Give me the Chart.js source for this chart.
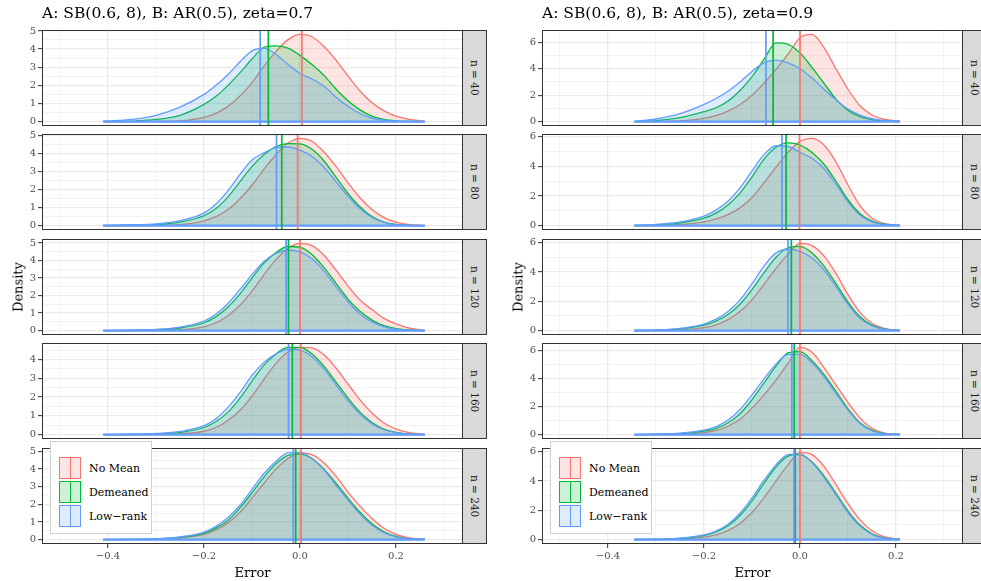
<!DOCTYPE html>
<html>
<head>
<meta charset="utf-8">
<script src="https://cdn.jsdelivr.net/npm/chart.js@4.4.0/dist/chart.umd.min.js"></script>
<style>
    body { margin: 0; width: 981px; height: 581px; overflow: hidden; background: #fff; position: relative; font-family: "DejaVu Serif", serif; }
    canvas { position: absolute; }
    .txt { position: absolute; white-space: nowrap; line-height: 1; color: #000; }
    .strip { position: absolute; box-sizing: border-box; background: #d9d9d9; border: 1px solid #333; display: flex; align-items: center; justify-content: center; }
    .strip span { writing-mode: vertical-rl; font-size: 10.5px; color: #1a1a1a; }
    .legend { position: absolute; box-sizing: border-box; background: #fff; border: 1px solid #d0d0d0; }
    .key { position: absolute; box-sizing: border-box; width: 22px; height: 22px; border-width: 1.3px; border-style: solid; }
    .key i { position: absolute; left: 9.5px; top: 0; width: 1.6px; height: 100%; }
    .legend span { position: absolute; font-size: 11px; transform: translateY(-50%); }
</style>
</head>
<body>
<script>
// Facet titles and labels
const titles = ["A: SB(0.6, 8), B: AR(0.5), zeta=0.7", "A: SB(0.6, 8), B: AR(0.5), zeta=0.9"];
const seriesNames = ["No Mean", "Demeaned", "Low\u2212rank"];
const sampleSizes = [40, 80, 120, 160, 240];
const xTickValues = [-0.5, -0.4, -0.3, -0.2, -0.1, 0, 0.1, 0.2, 0.3];

// Error grid (x) for each column
const errorZ07 = [-0.41, -0.35, -0.3, -0.25, -0.2, -0.175, -0.15, -0.125, -0.1, -0.075, -0.05, -0.025, 0, 0.025, 0.05, 0.075, 0.1, 0.125, 0.15, 0.175, 0.2, 0.225, 0.26];
const errorZ09 = [-0.345, -0.3, -0.25, -0.2, -0.175, -0.15, -0.125, -0.1, -0.075, -0.05, -0.025, 0, 0.025, 0.05, 0.075, 0.1, 0.125, 0.15, 0.175, 0.208];

// Densities, zeta = 0.7 (rows: n = 40, 80, 120, 160, 240)
const noMeanZ07 = [
    [0, 0, 0.01, 0.04, 0.23, 0.46, 0.84, 1.41, 2.15, 3.05, 3.87, 4.52, 4.81, 4.68, 4.14, 3.39, 2.52, 1.69, 1.04, 0.59, 0.3, 0.14, 0.02],
    [0, 0, 0.01, 0.05, 0.26, 0.5, 0.9, 1.5, 2.25, 3.15, 3.95, 4.6, 4.86, 4.7, 4.1, 3.3, 2.4, 1.55, 0.9, 0.45, 0.2, 0.07, 0.01],
    [0, 0, 0.01, 0.05, 0.22, 0.45, 0.85, 1.45, 2.25, 3.2, 4.05, 4.7, 4.98, 4.85, 4.3, 3.45, 2.55, 1.75, 1.2, 0.7, 0.38, 0.16, 0.02],
    [0, 0, 0.01, 0.04, 0.18, 0.38, 0.75, 1.3, 2.05, 2.95, 3.8, 4.4, 4.65, 4.62, 4.25, 3.55, 2.7, 1.85, 1.15, 0.62, 0.3, 0.12, 0.02],
    [0, 0.01, 0.03, 0.1, 0.3, 0.55, 0.95, 1.55, 2.35, 3.2, 4.0, 4.6, 4.92, 4.82, 4.35, 3.6, 2.7, 1.9, 1.2, 0.65, 0.3, 0.11, 0.02]
];
const demeanedZ07 = [
    [0, 0.03, 0.12, 0.35, 0.95, 1.4, 2.0, 2.7, 3.45, 4.1, 4.18, 4.05, 3.65, 3.15, 2.55, 1.8, 1.15, 0.65, 0.3, 0.12, 0.04, 0.01, 0],
    [0, 0.02, 0.06, 0.2, 0.55, 0.95, 1.6, 2.45, 3.3, 3.95, 4.4, 4.57, 4.55, 4.25, 3.6, 2.7, 1.8, 1.05, 0.5, 0.2, 0.07, 0.02, 0],
    [0, 0.02, 0.05, 0.15, 0.45, 0.8, 1.35, 2.1, 3.0, 3.85, 4.45, 4.8, 4.75, 4.35, 3.6, 2.7, 1.8, 1.1, 0.6, 0.28, 0.11, 0.04, 0],
    [0, 0.01, 0.04, 0.12, 0.38, 0.7, 1.2, 1.95, 2.85, 3.7, 4.3, 4.65, 4.65, 4.3, 3.65, 2.8, 1.95, 1.2, 0.65, 0.3, 0.12, 0.04, 0],
    [0, 0.01, 0.04, 0.12, 0.35, 0.65, 1.1, 1.8, 2.65, 3.55, 4.3, 4.78, 4.85, 4.6, 4.0, 3.2, 2.35, 1.55, 0.9, 0.45, 0.18, 0.06, 0.01]
];
const lowRankZ07 = [
    [0.02, 0.12, 0.35, 0.8, 1.5, 2.0, 2.6, 3.3, 3.9, 4.05, 3.7, 3.15, 2.65, 2.35, 1.95, 1.35, 0.85, 0.45, 0.2, 0.08, 0.03, 0.01, 0],
    [0.02, 0.05, 0.1, 0.28, 0.7, 1.2, 1.95, 2.85, 3.65, 4.05, 4.35, 4.38, 4.2, 3.85, 3.25, 2.45, 1.65, 0.95, 0.45, 0.18, 0.06, 0.02, 0],
    [0.01, 0.03, 0.07, 0.2, 0.55, 0.95, 1.55, 2.35, 3.2, 3.95, 4.4, 4.6, 4.5, 4.1, 3.4, 2.5, 1.65, 0.95, 0.5, 0.22, 0.08, 0.03, 0],
    [0.01, 0.02, 0.06, 0.17, 0.48, 0.85, 1.45, 2.25, 3.15, 3.85, 4.3, 4.55, 4.5, 4.15, 3.5, 2.65, 1.8, 1.1, 0.58, 0.26, 0.1, 0.03, 0],
    [0.01, 0.02, 0.05, 0.15, 0.42, 0.75, 1.25, 1.95, 2.85, 3.75, 4.45, 4.92, 4.95, 4.6, 3.95, 3.1, 2.25, 1.45, 0.82, 0.4, 0.15, 0.05, 0.01]
];

// Densities, zeta = 0.9
const noMeanZ09 = [
    [0, 0.01, 0.06, 0.25, 0.45, 0.8, 1.3, 2.0, 2.9, 3.95, 5.1, 6.35, 6.6, 5.6, 4.0, 2.45, 1.2, 0.5, 0.18, 0.03],
    [0, 0.01, 0.06, 0.25, 0.45, 0.75, 1.2, 1.9, 2.9, 3.95, 4.95, 5.7, 5.9, 5.45, 4.3, 2.75, 1.35, 0.5, 0.15, 0.02],
    [0, 0.01, 0.05, 0.2, 0.4, 0.75, 1.3, 2.1, 3.15, 4.25, 5.2, 5.95, 5.8, 5.1, 3.9, 2.45, 1.25, 0.5, 0.16, 0.02],
    [0, 0.01, 0.04, 0.15, 0.3, 0.6, 1.1, 1.9, 2.85, 3.9, 5.1, 6.25, 5.9, 4.8, 3.55, 2.3, 1.2, 0.45, 0.13, 0.02],
    [0, 0.01, 0.04, 0.17, 0.33, 0.62, 1.1, 1.85, 2.85, 4.0, 5.1, 5.95, 5.8, 5.0, 3.75, 2.45, 1.35, 0.6, 0.2, 0.03]
];
const demeanedZ09 = [
    [0.01, 0.08, 0.3, 0.75, 1.05, 1.55, 2.35, 3.4, 4.7, 5.95, 5.85, 5.2, 4.1, 2.9, 1.7, 0.85, 0.38, 0.15, 0.05, 0.01],
    [0.01, 0.05, 0.17, 0.5, 0.85, 1.4, 2.2, 3.3, 4.5, 5.3, 5.6, 5.45, 4.95, 4.15, 3.0, 1.75, 0.8, 0.3, 0.1, 0.01],
    [0.01, 0.03, 0.12, 0.38, 0.65, 1.1, 1.8, 2.8, 3.95, 5.0, 5.65, 5.75, 5.3, 4.4, 3.2, 1.95, 0.95, 0.38, 0.12, 0.02],
    [0, 0.02, 0.07, 0.25, 0.45, 0.85, 1.5, 2.5, 3.7, 4.9, 5.85, 5.95, 5.3, 4.3, 3.1, 1.85, 0.85, 0.3, 0.08, 0.01],
    [0.01, 0.02, 0.08, 0.28, 0.52, 0.95, 1.65, 2.65, 3.85, 4.95, 5.7, 5.8, 5.3, 4.35, 3.15, 1.95, 1.0, 0.4, 0.12, 0.02]
];
const lowRankZ09 = [
    [0.02, 0.2, 0.6, 1.3, 1.75, 2.3, 3.0, 3.8, 4.45, 4.65, 4.45, 4.0, 3.3, 2.45, 1.65, 0.95, 0.5, 0.22, 0.08, 0.01],
    [0.02, 0.08, 0.25, 0.65, 1.05, 1.65, 2.55, 3.7, 4.8, 5.4, 5.35, 4.95, 4.55, 3.85, 2.8, 1.6, 0.7, 0.25, 0.08, 0.01],
    [0.01, 0.04, 0.15, 0.45, 0.78, 1.3, 2.1, 3.2, 4.4, 5.3, 5.55, 5.4, 4.95, 4.15, 3.0, 1.8, 0.85, 0.33, 0.1, 0.01],
    [0.01, 0.03, 0.1, 0.32, 0.58, 1.05, 1.8, 2.85, 4.0, 5.05, 5.75, 5.75, 5.15, 4.15, 2.95, 1.75, 0.8, 0.28, 0.08, 0.01],
    [0.01, 0.03, 0.1, 0.32, 0.58, 1.05, 1.8, 2.85, 4.05, 5.1, 5.8, 5.85, 5.25, 4.25, 3.05, 1.85, 0.92, 0.36, 0.1, 0.01]
];

// Mean error per panel (vertical lines)
const meanNoMeanZ07 = [0.004, -0.005, 0.0, 0.002, 0.002];
const meanDemeanedZ07 = [-0.066, -0.038, -0.024, -0.016, -0.009];
const meanLowRankZ07 = [-0.083, -0.049, -0.029, -0.024, -0.014];
const meanNoMeanZ09 = [0.0, -0.001, 0.0, 0.0, 0.0];
const meanDemeanedZ09 = [-0.056, -0.029, -0.018, -0.012, -0.01];
const meanLowRankZ09 = [-0.071, -0.0375, -0.025, -0.017, -0.0125];

const COLORS = ["#F8766D", "#00BA38", "#619CFF"];
const FILLS = ["rgba(248,118,109,0.2)", "rgba(0,186,56,0.2)", "rgba(97,156,255,0.2)"];

const X_MIN = -0.5375, X_MAX = 0.3396;
const PANEL_TOPS = [30, 134, 239, 343, 448];
const PANEL_H = 96;

const columns = [
    { left: 0, panelLeft: 42, panelRight: 463, title: titles[0], xs: errorZ07,
      dens: [noMeanZ07, demeanedZ07, lowRankZ07], means: [meanNoMeanZ07, meanDemeanedZ07, meanLowRankZ07],
      majorStep: 1, minorStep: 0.5 },
    { left: 490, panelLeft: 542, panelRight: 963, title: titles[1], xs: errorZ09,
      dens: [noMeanZ09, demeanedZ09, lowRankZ09], means: [meanNoMeanZ09, meanDemeanedZ09, meanLowRankZ09],
      majorStep: 2, minorStep: 1 }
];

Chart.defaults.font.family = "'DejaVu Serif', serif";

// Draws the dark panel frame
const panelBorder = {
    id: "panelBorder",
    afterDraw(chart) {
        const a = chart.chartArea;
        const ctx = chart.ctx;
        ctx.save();
        ctx.strokeStyle = "#333333";
        ctx.lineWidth = 1;
        ctx.strokeRect(Math.round(a.left) + 0.5, Math.round(a.top) + 0.5,
            Math.round(a.right - a.left) - 1, Math.round(a.bottom - a.top) - 1);
        ctx.restore();
    }
};

function isMajor(value, step) {
    const r = Math.round(value / step);
    return Math.abs(r * step - value) < 1e-6 && r % 2 === 0;
}

function addText(text, x, y, size, opts = {}) {
    const d = document.createElement("div");
    d.className = "txt";
    d.textContent = text;
    d.style.left = x + "px";
    d.style.top = y + "px";
    d.style.fontSize = size + "px";
    d.style.transform = opts.transform || "translate(-50%,-50%)";
    document.body.appendChild(d);
}

function makePanel(col, row) {
    const isBottom = row === sampleSizes.length - 1;
    const padTop = 10;
    const padBottom = isBottom ? 0 : 10;
    const xAxisH = isBottom ? 30 : 0;
    const top = PANEL_TOPS[row];

    const canvas = document.createElement("canvas");
    canvas.width = col.panelRight - col.left;
    canvas.height = padTop + PANEL_H + padBottom + xAxisH;
    canvas.style.left = col.left + "px";
    canvas.style.top = (top - padTop) + "px";
    document.body.appendChild(canvas);

    // y range like ggplot: 5% expansion around [0, max]
    let maxDens = 0;
    col.dens.forEach(series => series[row].forEach(v => { maxDens = Math.max(maxDens, v); }));
    const yMin = -0.05 * maxDens;
    const yMax = 1.05 * maxDens;

    const datasets = [];
    col.dens.forEach((series, s) => {
        datasets.push({
            data: col.xs.map((x, i) => ({ x: x, y: series[row][i] })),
            borderColor: COLORS[s],
            backgroundColor: FILLS[s],
            borderWidth: 1.3,
            fill: "origin",
            pointRadius: 0,
            cubicInterpolationMode: "monotone",
            order: 10 - s
        });
    });
    // polygon bottom edge of the last density
    datasets.push({
        data: [{ x: col.xs[0], y: 0 }, { x: col.xs[col.xs.length - 1], y: 0 }],
        borderColor: COLORS[2],
        borderWidth: 2.2,
        pointRadius: 0,
        fill: false,
        order: 6
    });
    col.means.forEach((m, s) => {
        datasets.push({
            data: [{ x: m[row], y: yMin }, { x: m[row], y: yMax }],
            borderColor: COLORS[s],
            borderWidth: 1.7,
            pointRadius: 0,
            fill: false,
            order: 5 - s
        });
    });

    new Chart(canvas, {
        type: "line",
        data: { datasets: datasets },
        options: {
            responsive: false,
            animation: false,
            events: [],
            layout: { padding: { top: padTop, bottom: padBottom, left: 0, right: 0 } },
            plugins: { legend: { display: false }, tooltip: { enabled: false } },
            scales: {
                x: {
                    type: "linear",
                    min: X_MIN,
                    max: X_MAX,
                    afterBuildTicks: scale => { scale.ticks = xTickValues.map(v => ({ value: v })); },
                    afterFit: scale => { scale.height = xAxisH; },
                    border: { display: false },
                    grid: {
                        color: "#EBEBEB",
                        lineWidth: ctx => isMajor(ctx.tick.value, 0.1) ? 1.3 : 0.6,
                        drawTicks: isBottom,
                        tickLength: 4,
                        tickColor: ctx => isMajor(ctx.tick.value, 0.1) ? "#333333" : "rgba(0,0,0,0)",
                        tickWidth: 1
                    },
                    ticks: {
                        display: isBottom,
                        autoSkip: false,
                        maxRotation: 0,
                        padding: 2,
                        color: "#4D4D4D",
                        font: { size: 10 },
                        callback: v => {
                            if (!isMajor(v, 0.1)) return "";
                            const t = Math.abs(v).toFixed(1);
                            return v < -1e-9 ? "\u2212" + t : t;
                        }
                    }
                },
                y: {
                    type: "linear",
                    min: yMin,
                    max: yMax,
                    afterBuildTicks: scale => {
                        const ticks = [];
                        for (let k = 0; k * col.minorStep <= yMax + 1e-9; k++) ticks.push({ value: k * col.minorStep });
                        scale.ticks = ticks;
                    },
                    afterFit: scale => { scale.width = col.panelLeft - col.left; },
                    border: { display: false },
                    grid: {
                        color: "#EBEBEB",
                        lineWidth: ctx => isMajor(ctx.tick.value, col.minorStep) ? 1.3 : 0.6,
                        tickLength: 4,
                        tickColor: ctx => isMajor(ctx.tick.value, col.minorStep) ? "#333333" : "rgba(0,0,0,0)",
                        tickWidth: 1
                    },
                    ticks: {
                        autoSkip: false,
                        padding: 2,
                        color: "#4D4D4D",
                        font: { size: 10 },
                        callback: v => isMajor(v, col.minorStep) ? String(Math.round(v)) : ""
                    }
                }
            }
        },
        plugins: [panelBorder]
    });

    // facet strip
    const strip = document.createElement("div");
    strip.className = "strip";
    strip.style.left = (col.panelRight - 1) + "px";
    strip.style.top = top + "px";
    strip.style.width = "25px";
    strip.style.height = PANEL_H + "px";
    const label = document.createElement("span");
    label.textContent = "n = " + sampleSizes[row];
    strip.appendChild(label);
    document.body.appendChild(strip);
}

function makeLegend(col) {
    const box = document.createElement("div");
    box.className = "legend";
    box.style.left = (col.panelLeft + 8) + "px";
    box.style.top = "441px";
    box.style.width = "102px";
    box.style.height = "93px";
    seriesNames.forEach((name, s) => {
        const key = document.createElement("div");
        key.className = "key";
        key.style.left = "8px";
        key.style.top = (15 + s * 24) + "px";
        key.style.background = FILLS[s];
        key.style.borderColor = COLORS[s];
        const line = document.createElement("i");
        line.style.background = COLORS[s];
        key.appendChild(line);
        box.appendChild(key);
        const label = document.createElement("span");
        label.textContent = name;
        label.style.left = "38px";
        label.style.top = (26 + s * 24) + "px";
        box.appendChild(label);
    });
    document.body.appendChild(box);
}

columns.forEach(col => {
    sampleSizes.forEach((n, row) => makePanel(col, row));
    makeLegend(col);
    const mid = (col.panelLeft + col.panelRight) / 2;
    addText(col.title, col.panelLeft, 14, 15.5, { transform: "translate(0,-50%)" });
    addText("Error", mid, 572, 13);
    addText("Density", col.panelLeft - 24, 287, 13, { transform: "translate(-50%,-50%) rotate(-90deg)" });
});
</script>
</body>
</html>
